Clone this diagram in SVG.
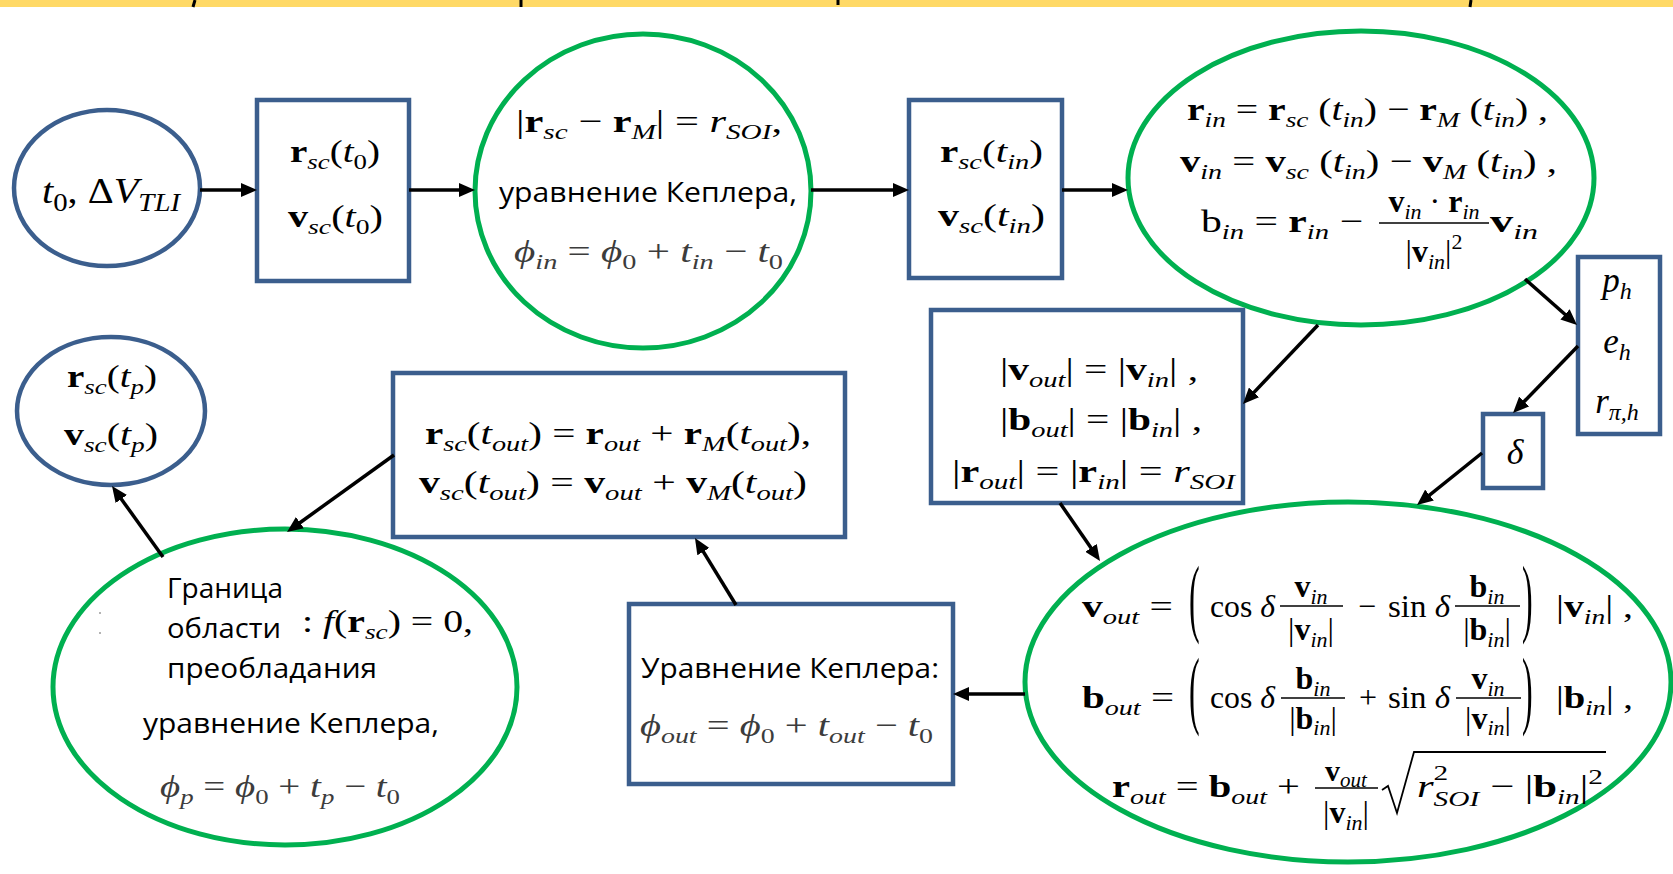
<svg xmlns="http://www.w3.org/2000/svg" width="1673" height="874" viewBox="0 0 1673 874">
  <style>
    .bn { fill:#ffffff; stroke:#3B5E8D; stroke-width:4.5; }
    .gn { fill:#ffffff; stroke:#00B050; stroke-width:5; }
    .m { font-family:"Liberation Serif","DejaVu Serif",serif; font-size:32px; fill:#000000; }
    .gr { fill:#3c3c3c; }
    .b { font-weight:bold; }
    .i { font-style:italic; }
    .s { font-size:22px; font-style:italic; }
    .s0 { font-size:22px; }
    .ru { font-family:"Open Sans","Liberation Sans",sans-serif; font-size:28px; fill:#000000; }
    .bar { stroke:#000000; stroke-width:1.5; }
    .c { stroke:#000000; stroke-width:3.5; fill:none; marker-end:url(#ah); }
  </style>
  <defs>
    <marker id="ah" markerUnits="userSpaceOnUse" markerWidth="16" markerHeight="14" refX="10" refY="7" orient="auto">
      <path d="M0,0 L16,7 L0,14 Z" fill="#000000"/>
    </marker>
  </defs>

  <rect width="1673" height="874" fill="#ffffff"/>

  <!-- header strip -->
  <g id="header">
    <rect x="0" y="0" width="1673" height="7" fill="#FFD966"/>
    <path d="M195,0 L193,7 M521,0 L521,7 M838,0 L838,5 M1471,0 L1470,7" stroke="#000000" stroke-width="3"/>
  </g>

  <!-- t0, dV_TLI -->
  <g id="start">
    <ellipse class="bn" cx="107" cy="188" rx="93" ry="78"/>
    <text class="m" style="font-size:35px" x="42" y="203" textLength="138" lengthAdjust="spacingAndGlyphs"><tspan class="i">t</tspan><tspan class="s0" style="font-size:25px" dy="8">0</tspan><tspan dy="-8">, Δ</tspan><tspan class="i">V</tspan><tspan class="s" style="font-size:25px" dy="8">TLI</tspan></text>
  </g>

  <!-- r_sc(t0), v_sc(t0) -->
  <g id="state0">
    <rect class="bn" x="257" y="100" width="152" height="181"/>
    <text class="m" x="290" y="162" textLength="90" lengthAdjust="spacingAndGlyphs"><tspan class="b">r</tspan><tspan class="s" dy="7">sc</tspan><tspan dy="-7">(</tspan><tspan class="i">t</tspan><tspan class="s0" dy="7">0</tspan><tspan dy="-7">)</tspan></text>
    <text class="m" x="288" y="227" textLength="95" lengthAdjust="spacingAndGlyphs"><tspan class="b">v</tspan><tspan class="s" dy="7">sc</tspan><tspan dy="-7">(</tspan><tspan class="i">t</tspan><tspan class="s0" dy="7">0</tspan><tspan dy="-7">)</tspan></text>
  </g>

  <!-- sphere of influence entry -->
  <g id="soi-entry">
    <ellipse class="gn" cx="643" cy="191" rx="168" ry="157"/>
    <text class="m" x="516" y="132" textLength="266" lengthAdjust="spacingAndGlyphs">|<tspan class="b">r</tspan><tspan class="s" dy="7">sc</tspan><tspan dy="-7"> − </tspan><tspan class="b">r</tspan><tspan class="s" dy="7">M</tspan><tspan dy="-7">| = </tspan><tspan class="i">r</tspan><tspan class="s" dy="7">SOI</tspan><tspan dy="-7">,</tspan></text>
    <text class="ru" x="499" y="202" textLength="298" lengthAdjust="spacingAndGlyphs">уравнение Кеплера,</text>
    <text class="m gr" x="514" y="262" textLength="269" lengthAdjust="spacingAndGlyphs"><tspan class="i">ϕ</tspan><tspan class="s" dy="7">in</tspan><tspan dy="-7"> = </tspan><tspan class="i">ϕ</tspan><tspan class="s0" dy="7">0</tspan><tspan dy="-7"> + </tspan><tspan class="i">t</tspan><tspan class="s" dy="7">in</tspan><tspan dy="-7"> − </tspan><tspan class="i">t</tspan><tspan class="s0" dy="7">0</tspan></text>
  </g>

  <!-- r_sc(t_in), v_sc(t_in) -->
  <g id="state-in">
    <rect class="bn" x="909" y="100" width="153" height="178"/>
    <text class="m" x="940" y="162" textLength="103" lengthAdjust="spacingAndGlyphs"><tspan class="b">r</tspan><tspan class="s" dy="7">sc</tspan><tspan dy="-7">(</tspan><tspan class="i">t</tspan><tspan class="s" dy="7">in</tspan><tspan dy="-7">)</tspan></text>
    <text class="m" x="938" y="226" textLength="107" lengthAdjust="spacingAndGlyphs"><tspan class="b">v</tspan><tspan class="s" dy="7">sc</tspan><tspan dy="-7">(</tspan><tspan class="i">t</tspan><tspan class="s" dy="7">in</tspan><tspan dy="-7">)</tspan></text>
  </g>

  <!-- selenocentric entry state -->
  <g id="moon-frame">
    <ellipse class="gn" cx="1361" cy="178" rx="233" ry="147"/>
    <text class="m" x="1187" y="120" textLength="361" lengthAdjust="spacingAndGlyphs"><tspan class="b">r</tspan><tspan class="s" dy="7">in</tspan><tspan dy="-7"> = </tspan><tspan class="b">r</tspan><tspan class="s" dy="7">sc</tspan><tspan dy="-7"> (</tspan><tspan class="i">t</tspan><tspan class="s" dy="7">in</tspan><tspan dy="-7">) − </tspan><tspan class="b">r</tspan><tspan class="s" dy="7">M</tspan><tspan dy="-7"> (</tspan><tspan class="i">t</tspan><tspan class="s" dy="7">in</tspan><tspan dy="-7">) ,</tspan></text>
    <text class="m" x="1180" y="172" textLength="377" lengthAdjust="spacingAndGlyphs"><tspan class="b">v</tspan><tspan class="s" dy="7">in</tspan><tspan dy="-7"> = </tspan><tspan class="b">v</tspan><tspan class="s" dy="7">sc</tspan><tspan dy="-7"> (</tspan><tspan class="i">t</tspan><tspan class="s" dy="7">in</tspan><tspan dy="-7">) − </tspan><tspan class="b">v</tspan><tspan class="s" dy="7">M</tspan><tspan dy="-7"> (</tspan><tspan class="i">t</tspan><tspan class="s" dy="7">in</tspan><tspan dy="-7">) ,</tspan></text>
    <text class="m" x="1201" y="232" textLength="162" lengthAdjust="spacingAndGlyphs">b<tspan class="s" dy="7">in</tspan><tspan dy="-7"> = </tspan><tspan class="b">r</tspan><tspan class="s" dy="7">in</tspan><tspan dy="-7"> −</tspan></text>
    <line class="bar" x1="1379" y1="223" x2="1489" y2="223"/>
    <text class="m" x="1434" y="212" text-anchor="middle"><tspan class="b">v</tspan><tspan class="s" dy="7">in</tspan><tspan dy="-7"> · </tspan><tspan class="b">r</tspan><tspan class="s" dy="7">in</tspan></text>
    <text class="m" x="1434" y="262" text-anchor="middle">|<tspan class="b">v</tspan><tspan class="s" dy="7">in</tspan><tspan dy="-7">|</tspan><tspan class="s0" dy="-13">2</tspan></text>
    <text class="m" x="1490" y="232" textLength="48" lengthAdjust="spacingAndGlyphs"><tspan class="b">v</tspan><tspan class="s" dy="7">in</tspan></text>
  </g>

  <!-- hyperbola elements -->
  <g id="hyperbola">
    <rect class="bn" x="1578" y="257" width="82" height="177"/>
    <text class="m" style="font-size:35px" x="1617" y="292" text-anchor="middle"><tspan class="i">p</tspan><tspan class="s" style="font-size:24px" dy="7">h</tspan></text>
    <text class="m" style="font-size:35px" x="1617" y="353" text-anchor="middle"><tspan class="i">e</tspan><tspan class="s" style="font-size:24px" dy="7">h</tspan></text>
    <text class="m" style="font-size:35px" x="1617" y="413" text-anchor="middle"><tspan class="i">r</tspan><tspan class="s" style="font-size:24px" dy="7">π,h</tspan></text>
  </g>

  <!-- turn angle -->
  <g id="delta">
    <rect class="bn" x="1483" y="414" width="60" height="74"/>
    <text class="m i" style="font-size:36px" x="1515" y="464" text-anchor="middle">δ</text>
  </g>

  <!-- magnitudes preserved -->
  <g id="invariants">
    <rect class="bn" x="931" y="310" width="312" height="193"/>
    <text class="m" x="1000" y="380" textLength="198" lengthAdjust="spacingAndGlyphs">|<tspan class="b">v</tspan><tspan class="s" dy="7">out</tspan><tspan dy="-7">| = |</tspan><tspan class="b">v</tspan><tspan class="s" dy="7">in</tspan><tspan dy="-7">| ,</tspan></text>
    <text class="m" x="1000" y="430" textLength="202" lengthAdjust="spacingAndGlyphs">|<tspan class="b">b</tspan><tspan class="s" dy="7">out</tspan><tspan dy="-7">| = |</tspan><tspan class="b">b</tspan><tspan class="s" dy="7">in</tspan><tspan dy="-7">| ,</tspan></text>
    <text class="m" x="952" y="482" textLength="283" lengthAdjust="spacingAndGlyphs">|<tspan class="b">r</tspan><tspan class="s" dy="7">out</tspan><tspan dy="-7">| = |</tspan><tspan class="b">r</tspan><tspan class="s" dy="7">in</tspan><tspan dy="-7">| = </tspan><tspan class="i">r</tspan><tspan class="s" dy="7">SOI</tspan></text>
  </g>

  <!-- exit state in the Moon frame -->
  <g id="moon-exit">
    <ellipse class="gn" cx="1348" cy="682" rx="323" ry="180"/>
    <!-- v_out -->
    <text class="m" x="1082" y="617" textLength="91" lengthAdjust="spacingAndGlyphs"><tspan class="b">v</tspan><tspan class="s" dy="7">out</tspan><tspan dy="-7"> =</tspan></text>
    <text class="m" transform="translate(1189,626) scale(1,2.7)" style="font-size:32px">(</text>
    <text class="m" x="1210" y="617" textLength="65" lengthAdjust="spacingAndGlyphs">cos <tspan class="i">δ</tspan></text>
    <line class="bar" x1="1280" y1="606" x2="1343" y2="606"/>
    <text class="m" x="1311" y="597" text-anchor="middle"><tspan class="b">v</tspan><tspan class="s" dy="7">in</tspan></text>
    <text class="m" x="1311" y="640" text-anchor="middle">|<tspan class="b">v</tspan><tspan class="s" dy="7">in</tspan><tspan dy="-7">|</tspan></text>
    <text class="m" x="1367" y="617" text-anchor="middle">−</text>
    <text class="m" x="1388" y="617" textLength="62" lengthAdjust="spacingAndGlyphs">sin <tspan class="i">δ</tspan></text>
    <line class="bar" x1="1455" y1="606" x2="1520" y2="606"/>
    <text class="m" x="1487" y="597" text-anchor="middle"><tspan class="b">b</tspan><tspan class="s" dy="7">in</tspan></text>
    <text class="m" x="1487" y="640" text-anchor="middle">|<tspan class="b">b</tspan><tspan class="s" dy="7">in</tspan><tspan dy="-7">|</tspan></text>
    <text class="m" transform="translate(1522,626) scale(1,2.7)" style="font-size:32px">)</text>
    <text class="m" x="1556" y="617" textLength="77" lengthAdjust="spacingAndGlyphs">|<tspan class="b">v</tspan><tspan class="s" dy="7">in</tspan><tspan dy="-7">| ,</tspan></text>
    <!-- b_out -->
    <text class="m" x="1082" y="708" textLength="92" lengthAdjust="spacingAndGlyphs"><tspan class="b">b</tspan><tspan class="s" dy="7">out</tspan><tspan dy="-7"> =</tspan></text>
    <text class="m" transform="translate(1189,718) scale(1,2.7)" style="font-size:32px">(</text>
    <text class="m" x="1210" y="708" textLength="65" lengthAdjust="spacingAndGlyphs">cos <tspan class="i">δ</tspan></text>
    <line class="bar" x1="1281" y1="698" x2="1345" y2="698"/>
    <text class="m" x="1313" y="689" text-anchor="middle"><tspan class="b">b</tspan><tspan class="s" dy="7">in</tspan></text>
    <text class="m" x="1313" y="729" text-anchor="middle">|<tspan class="b">b</tspan><tspan class="s" dy="6">in</tspan><tspan dy="-6">|</tspan></text>
    <text class="m" x="1368" y="708" text-anchor="middle">+</text>
    <text class="m" x="1388" y="708" textLength="62" lengthAdjust="spacingAndGlyphs">sin <tspan class="i">δ</tspan></text>
    <line class="bar" x1="1456" y1="698" x2="1521" y2="698"/>
    <text class="m" x="1488" y="689" text-anchor="middle"><tspan class="b">v</tspan><tspan class="s" dy="7">in</tspan></text>
    <text class="m" x="1488" y="729" text-anchor="middle">|<tspan class="b">v</tspan><tspan class="s" dy="6">in</tspan><tspan dy="-6">|</tspan></text>
    <text class="m" transform="translate(1522,718) scale(1,2.7)" style="font-size:32px">)</text>
    <text class="m" x="1556" y="708" textLength="77" lengthAdjust="spacingAndGlyphs">|<tspan class="b">b</tspan><tspan class="s" dy="7">in</tspan><tspan dy="-7">| ,</tspan></text>
    <!-- r_out -->
    <text class="m" x="1112" y="797" textLength="188" lengthAdjust="spacingAndGlyphs"><tspan class="b">r</tspan><tspan class="s" dy="7">out</tspan><tspan dy="-7"> = </tspan><tspan class="b">b</tspan><tspan class="s" dy="7">out</tspan><tspan dy="-7"> +</tspan></text>
    <line class="bar" x1="1315" y1="788" x2="1378" y2="788"/>
    <text class="m" style="font-size:30px" x="1346" y="781" text-anchor="middle"><tspan class="b">v</tspan><tspan class="s" style="font-size:21px" dy="6">out</tspan></text>
    <text class="m" x="1346" y="823" text-anchor="middle">|<tspan class="b">v</tspan><tspan class="s" dy="7">in</tspan><tspan dy="-7">|</tspan></text>
    <polyline points="1382,790 1388,786 1397,813 1414,752 1606,752" fill="none" stroke="#000000" stroke-width="1.8" stroke-linejoin="miter"/>
    <text class="m" x="1417" y="797" textLength="186" lengthAdjust="spacingAndGlyphs"><tspan class="i">r</tspan><tspan class="s0" dy="-17">2</tspan><tspan class="s" dx="-11" dy="26">SOI</tspan><tspan dy="-9"> − |</tspan><tspan class="b">b</tspan><tspan class="s" dy="7">in</tspan><tspan dy="-7">|</tspan><tspan class="s0" dy="-13">2</tspan></text>
  </g>

  <!-- Kepler equation for exit time -->
  <g id="kepler-out">
    <rect class="bn" x="629" y="604" width="324" height="180"/>
    <text class="ru" x="641" y="678" textLength="298" lengthAdjust="spacingAndGlyphs">Уравнение Кеплера:</text>
    <text class="m gr" x="640" y="736" textLength="293" lengthAdjust="spacingAndGlyphs"><tspan class="i">ϕ</tspan><tspan class="s" dy="7">out</tspan><tspan dy="-7"> = </tspan><tspan class="i">ϕ</tspan><tspan class="s0" dy="7">0</tspan><tspan dy="-7"> + </tspan><tspan class="i">t</tspan><tspan class="s" dy="7">out</tspan><tspan dy="-7"> − </tspan><tspan class="i">t</tspan><tspan class="s0" dy="7">0</tspan></text>
  </g>

  <!-- back to the Earth frame -->
  <g id="state-out">
    <rect class="bn" x="393" y="373" width="452" height="164"/>
    <text class="m" x="425" y="444" textLength="386" lengthAdjust="spacingAndGlyphs"><tspan class="b">r</tspan><tspan class="s" dy="7">sc</tspan><tspan dy="-7">(</tspan><tspan class="i">t</tspan><tspan class="s" dy="7">out</tspan><tspan dy="-7">) = </tspan><tspan class="b">r</tspan><tspan class="s" dy="7">out</tspan><tspan dy="-7"> + </tspan><tspan class="b">r</tspan><tspan class="s" dy="7">M</tspan><tspan dy="-7">(</tspan><tspan class="i">t</tspan><tspan class="s" dy="7">out</tspan><tspan dy="-7">),</tspan></text>
    <text class="m" x="419" y="493" textLength="388" lengthAdjust="spacingAndGlyphs"><tspan class="b">v</tspan><tspan class="s" dy="7">sc</tspan><tspan dy="-7">(</tspan><tspan class="i">t</tspan><tspan class="s" dy="7">out</tspan><tspan dy="-7">) = </tspan><tspan class="b">v</tspan><tspan class="s" dy="7">out</tspan><tspan dy="-7"> + </tspan><tspan class="b">v</tspan><tspan class="s" dy="7">M</tspan><tspan dy="-7">(</tspan><tspan class="i">t</tspan><tspan class="s" dy="7">out</tspan><tspan dy="-7">)</tspan></text>
  </g>

  <!-- boundary of the dominance region -->
  <g id="boundary">
    <ellipse class="gn" cx="285" cy="687" rx="232" ry="158"/>
    <circle cx="100" cy="613" r="1" fill="#9a9a9a"/>
    <circle cx="100" cy="633" r="1" fill="#9a9a9a"/>
    <text class="ru" x="167" y="598" textLength="116" lengthAdjust="spacingAndGlyphs">Граница</text>
    <text class="ru" x="167" y="638" textLength="114" lengthAdjust="spacingAndGlyphs">области</text>
    <text class="m" x="302" y="632" textLength="171" lengthAdjust="spacingAndGlyphs">: <tspan class="i">f</tspan>(<tspan class="b">r</tspan><tspan class="s" dy="7">sc</tspan><tspan dy="-7">) = 0,</tspan></text>
    <text class="ru" x="167" y="678" textLength="210" lengthAdjust="spacingAndGlyphs">преобладания</text>
    <text class="ru" x="143" y="733" textLength="296" lengthAdjust="spacingAndGlyphs">уравнение Кеплера,</text>
    <text class="m gr" x="160" y="797" textLength="240" lengthAdjust="spacingAndGlyphs"><tspan class="i">ϕ</tspan><tspan class="s" dy="7">p</tspan><tspan dy="-7"> = </tspan><tspan class="i">ϕ</tspan><tspan class="s0" dy="7">0</tspan><tspan dy="-7"> + </tspan><tspan class="i">t</tspan><tspan class="s" dy="7">p</tspan><tspan dy="-7"> − </tspan><tspan class="i">t</tspan><tspan class="s0" dy="7">0</tspan></text>
  </g>

  <!-- r_sc(t_p), v_sc(t_p) -->
  <g id="state-p">
    <ellipse class="bn" cx="111" cy="411" rx="94" ry="74"/>
    <text class="m" x="67" y="387" textLength="90" lengthAdjust="spacingAndGlyphs"><tspan class="b">r</tspan><tspan class="s" dy="7">sc</tspan><tspan dy="-7">(</tspan><tspan class="i">t</tspan><tspan class="s" dy="7">p</tspan><tspan dy="-7">)</tspan></text>
    <text class="m" x="64" y="445" textLength="94" lengthAdjust="spacingAndGlyphs"><tspan class="b">v</tspan><tspan class="s" dy="7">sc</tspan><tspan dy="-7">(</tspan><tspan class="i">t</tspan><tspan class="s" dy="7">p</tspan><tspan dy="-7">)</tspan></text>
  </g>

  <!-- connectors -->
  <g id="connectors">
    <line class="c" x1="200" y1="190" x2="251" y2="190"/>
    <line class="c" x1="409" y1="190" x2="469" y2="190"/>
    <line class="c" x1="811" y1="190" x2="903" y2="190"/>
    <line class="c" x1="1062" y1="190" x2="1122" y2="190"/>
    <line class="c" x1="1525" y1="279" x2="1572.5" y2="321"/>
    <line class="c" x1="1318" y1="325" x2="1247.1" y2="399.6"/>
    <line class="c" x1="1578" y1="346" x2="1517.2" y2="408.7"/>
    <line class="c" x1="1482" y1="453" x2="1421.7" y2="501.3"/>
    <line class="c" x1="1060" y1="503" x2="1096.6" y2="556.1"/>
    <line class="c" x1="1025" y1="694" x2="959" y2="694"/>
    <line class="c" x1="736" y1="605" x2="698.1" y2="543.1"/>
    <line class="c" x1="394" y1="455" x2="291.9" y2="528.5"/>
    <line class="c" x1="163" y1="557" x2="115.5" y2="490.9"/>
  </g>
</svg>
